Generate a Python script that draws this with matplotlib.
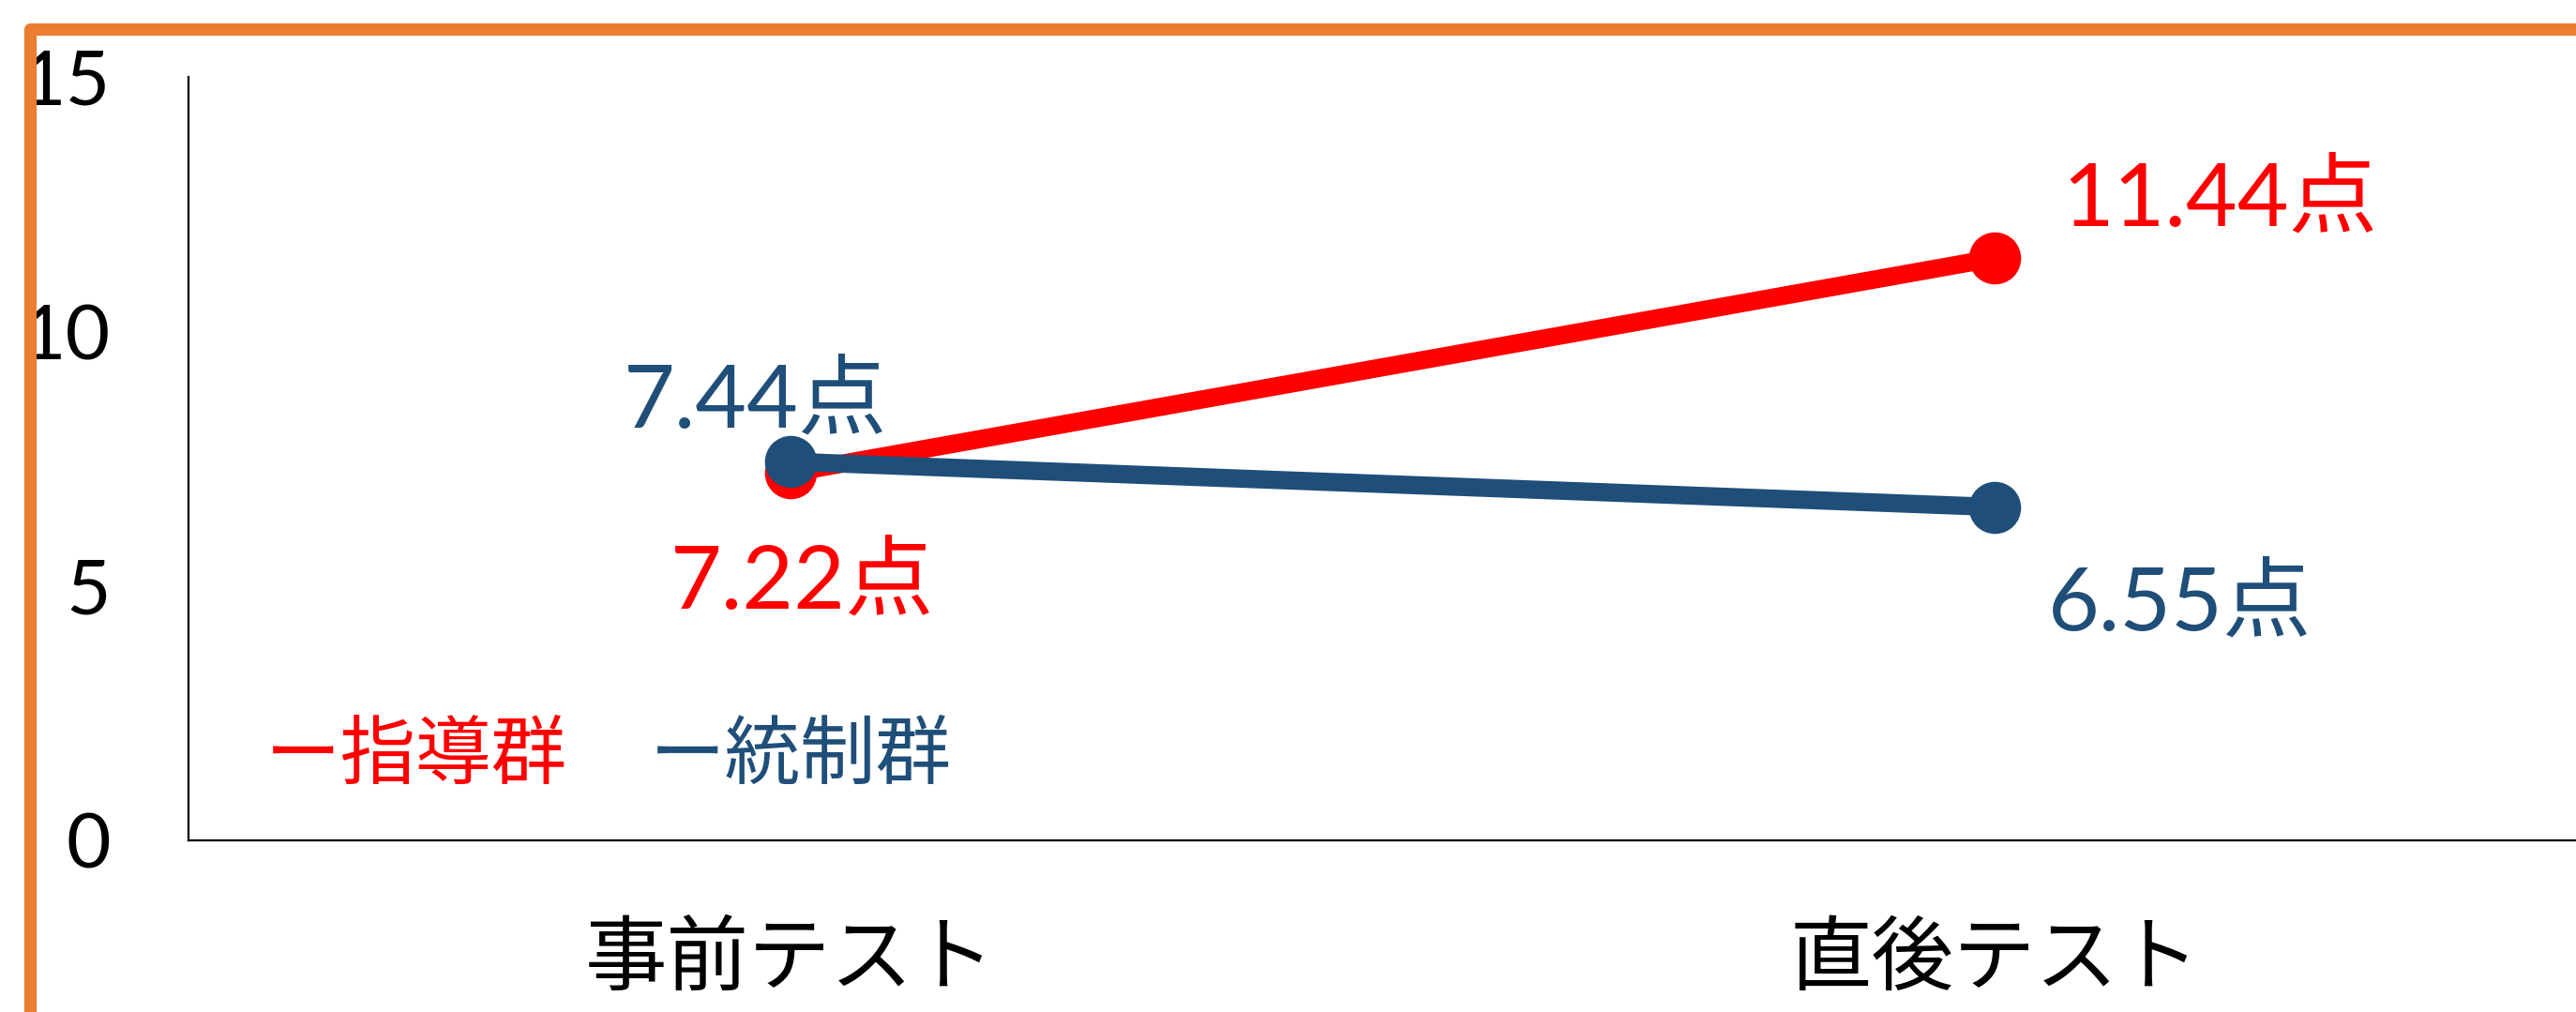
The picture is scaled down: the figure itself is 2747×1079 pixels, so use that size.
import matplotlib
matplotlib.use("Agg")
import matplotlib.pyplot as plt
from matplotlib.lines import Line2D

plt.rcParams['font.family'] = ['Lato', 'Noto Sans CJK JP']

# data
categories = ['事前テスト', '直後テスト']
shido = [7.22, 11.44]      # 指導群
tousei = [7.44, 6.55]      # 統制群
yticks = [0, 5, 10, 15]

red = '#FF0000'
blue = '#1F4E79'

W, H = 2747, 1079
fig = plt.figure(figsize=(W / 100, H / 100), dpi=100)
ax = fig.add_axes([201 / W, 183 / H, 2568 / W, 814 / H])

x = list(range(len(categories)))
ax.plot(x, shido, color=red, lw=14, marker='o', ms=39, solid_capstyle='butt', clip_on=False)
ax.plot(x, tousei, color=blue, lw=14, marker='o', ms=39, solid_capstyle='butt', clip_on=False)

ax.set_xlim(-0.5, 1.5)
ax.set_ylim(0, 15)
ax.set_yticks(yticks)
ax.set_yticklabels([str(v) for v in yticks], fontsize=59, family=['Lato'])
ax.set_xticks(x)
ax.set_xticklabels(categories, fontsize=63, family=['Noto Sans CJK JP'])
ax.tick_params(axis='y', length=0, pad=60)
ax.tick_params(axis='x', length=0, pad=60)

for s in ['top', 'right']:
    ax.spines[s].set_visible(False)
for s in ['left', 'bottom']:
    ax.spines[s].set_linewidth(1.6)
    ax.spines[s].set_color('black')

# value labels (offsets in pixels from the point)
def lab(xi, yi, color, dx, dy):
    ax.annotate(f'{yi:.2f}点', (xi, yi), xytext=(dx, dy), textcoords='offset pixels',
                ha='left', va='baseline', fontsize=68, color=color,
                family=['Lato', 'Noto Sans CJK JP'], annotation_clip=False)

lab(x[0], tousei[0], blue, -178, 37)
lab(x[0], shido[0], red, -128, -144)
lab(x[1], shido[1], red, 72, 35)
lab(x[1], tousei[1], blue, 57, -131)

# text legend
ax.text(82 / 2568, (896 - 830) / 814, 'ー指導群', transform=ax.transAxes,
        fontsize=58, color=red, ha='left', va='baseline', family=['Noto Sans CJK JP'])
ax.text(492 / 2568, (896 - 830) / 814, 'ー統制群', transform=ax.transAxes,
        fontsize=58, color=blue, ha='left', va='baseline', family=['Noto Sans CJK JP'])

# orange frame (cut at right and bottom)
x0 = 32 / W
yt = 1 - 30.5 / H
fig.add_artist(Line2D([x0, x0, 1.05], [-0.05, yt, yt], transform=fig.transFigure,
                      color='#ED7D31', lw=9.5, solid_joinstyle='round'))

fig.savefig('out.png', dpi=100)
